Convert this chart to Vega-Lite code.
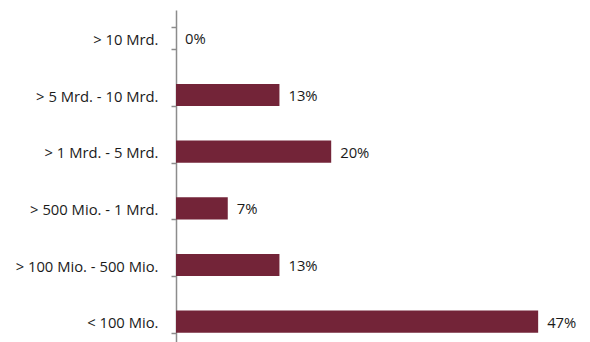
{
  "$schema": "https://vega.github.io/schema/vega-lite/v6.json",
  "width": 388,
  "height": 340,
  "autosize": "none",
  "padding": {"left": 176, "top": 10, "right": 26, "bottom": 0},
  "background": "white",
  "config": {"view": {"stroke": null}},
  "data": {
    "values": [
      {"cat": "> 10 Mrd.", "v": 0, "label": "0%"},
      {"cat": "> 5 Mrd. - 10 Mrd.", "v": 13.33, "label": "13%"},
      {"cat": "> 1 Mrd. - 5 Mrd.", "v": 20, "label": "20%"},
      {"cat": "> 500 Mio. - 1 Mrd.", "v": 6.67, "label": "7%"},
      {"cat": "> 100 Mio. - 500 Mio.", "v": 13.33, "label": "13%"},
      {"cat": "< 100 Mio.", "v": 46.67, "label": "47%"}
    ]
  },
  "encoding": {
    "y": {
      "field": "cat", "type": "nominal", "sort": null,
      "scale": {"paddingInner": 0.61, "paddingOuter": 0.305},
      "axis": {
        "title": null, "domainColor": "#8c8c8c", "domainWidth": 1.5,
        "tickColor": "#8c8c8c", "tickWidth": 1.5, "tickSize": 5, "tickBand": "extent",
        "labelFont": "Open Sans", "labelFontSize": 14.8, "labelColor": "#1a1a1a",
        "labelPadding": 13, "labelLimit": 300, "labelOffset": 2
      }
    },
    "x": {
      "field": "v", "type": "quantitative",
      "scale": {"domain": [0, 50], "nice": false},
      "axis": null
    }
  },
  "layer": [
    {"mark": {"type": "bar", "color": "#732438"}},
    {"mark": {"type": "text", "align": "left", "dx": 9, "dy": 2, "font": "Open Sans", "fontSize": 14.8, "color": "#1a1a1a"},
     "encoding": {"text": {"field": "label"}}}
  ]
}
